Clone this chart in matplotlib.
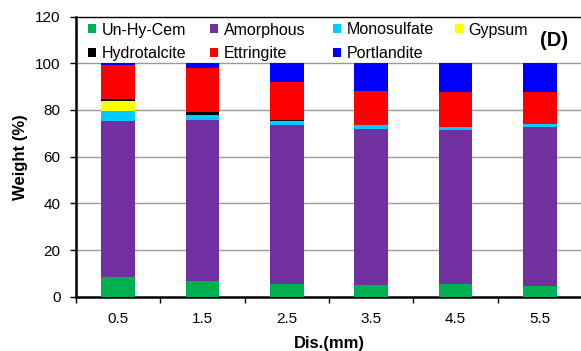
import numpy as np
import matplotlib
matplotlib.use("Agg")
import matplotlib.pyplot as plt
from matplotlib.patches import Patch

plt.rcParams["font.family"] = ["Liberation Sans", "DejaVu Sans"]

# ─── Veri ─────────────────────────────────────────────────────────────────────
distances = ["0.5", "1.5", "2.5", "3.5", "4.5", "5.5"]
un_hy_cem = [8.4, 6.7, 5.6, 4.9, 5.4, 4.7]
amorphous = [67.0, 68.8, 68.1, 67.0, 66.1, 67.8]
monosulfate = [4.3, 2.2, 1.4, 1.5, 1.4, 1.5]
gypsum = [4.2, 0.0, 0.0, 0.0, 0.0, 0.0]
hydrotalcite = [0.7, 1.5, 0.4, 0.0, 0.0, 0.2]
ettringite = [14.5, 18.6, 16.4, 14.7, 14.6, 13.6]
portlandite = [0.9, 2.2, 8.1, 11.9, 12.5, 12.2]

phases = [
    ("Un-Hy-Cem", un_hy_cem, "#00B050"),
    ("Amorphous", amorphous, "#7030A0"),
    ("Monosulfate", monosulfate, "#00CCFF"),
    ("Gypsum", gypsum, "#FFFF00"),
    ("Hydrotalcite", hydrotalcite, "#000000"),
    ("Ettringite", ettringite, "#FF0000"),
    ("Portlandite", portlandite, "#0000FF"),
]

W, H = 581, 351
fig = plt.figure(figsize=(W / 100, H / 100), dpi=100)
ax = fig.add_axes([76 / W, 1 - 296.7 / H, 506 / W, (296.7 - 16.6) / H])

x = np.arange(len(distances))
bottom = np.zeros(len(distances))
for name, vals, color in phases:
    vals = np.array(vals)
    ax.bar(x, vals, width=0.4, bottom=bottom, color=color, label=name,
           edgecolor="none", zorder=3)
    bottom += vals

ax.set_xlim(-0.5, len(distances) - 0.5)
ax.set_ylim(0, 120)
ax.set_yticks(np.arange(0, 121, 20))
ax.tick_params(axis="y", labelsize=11, direction="out", length=4, width=1, pad=7)
ax.set_xticks(x)
ax.set_xticklabels(distances, fontsize=11)
ax.tick_params(axis="x", which="major", length=0, pad=11)
ax.set_xticks(np.arange(-0.5, len(distances) + 0.5, 1), minor=True)
ax.tick_params(axis="x", which="minor", direction="out", length=4, width=1)

for y in range(20, 101, 20):
    ax.axhline(y, color="#9A9A9A", linewidth=1, zorder=1)

ax.spines["left"].set_linewidth(1.8)
ax.spines["bottom"].set_linewidth(1.8)
ax.spines["top"].set_linewidth(1.0)
ax.spines["right"].set_visible(False)

ax.set_xlabel("Dis.(mm)", fontsize=12, fontweight="bold", labelpad=7)
ax.set_ylabel("Weight (%)", fontsize=12, fontweight="bold", labelpad=5)

fig.text(554 / W, 1 - 41 / H, "(D)", fontsize=14.5, fontweight="bold",
         ha="center", va="center")

# Legend: Excel gibi eşit genişlikte sütunlar (her sütun ayrı legend)
columns = [[0, 4], [1, 5], [2, 6], [3]]
col_x = [88, 210, 333, 455]
for idx, cx in zip(columns, col_x):
    handles = [Patch(facecolor=phases[i][2], edgecolor="none") for i in idx]
    labels = [phases[i][0] for i in idx]
    fig.legend(handles, labels, loc="upper left",
               bbox_to_anchor=(cx / W, 1 - 22.5 / H),
               bbox_transform=fig.transFigure, frameon=False,
               fontsize=11.5, handlelength=0.5, handleheight=0.5,
               handletextpad=0.35, labelspacing=0.54,
               borderpad=0, borderaxespad=0)

fig.savefig("out.png", dpi=100)
